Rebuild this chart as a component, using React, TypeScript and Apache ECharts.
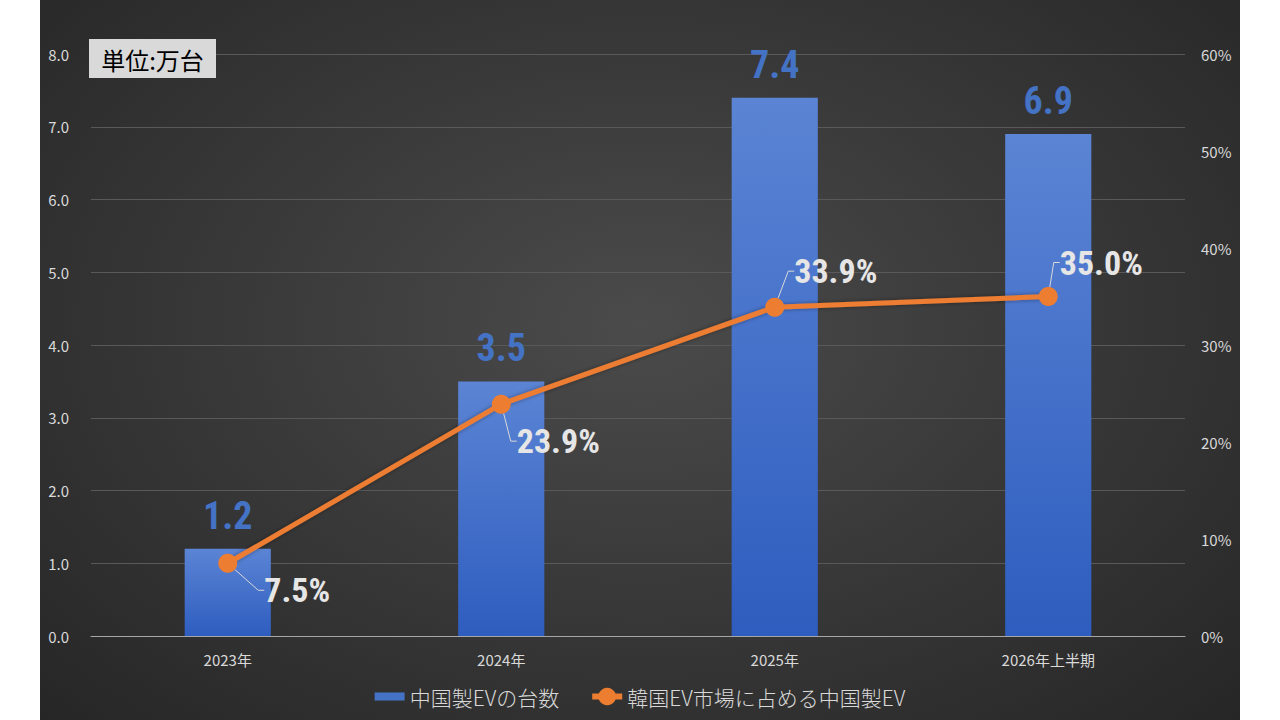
import React, { useEffect, useRef } from "react";
import * as echarts from "echarts";

const categories = ["2023年", "2024年", "2025年", "2026年上半期"];
const evUnits = [1.2, 3.5, 7.4, 6.9];
const evShare = [7.5, 23.9, 33.9, 35.0];
const leftTicks = [0, 1, 2, 3, 4, 5, 6, 7, 8];
const rightTicks = [0, 10, 20, 30, 40, 50, 60];
const barName = "中国製EVの台数";
const lineName = "韓国EV市場に占める中国製EV";
const unitText = "単位:万台";

const labelOffsets = [
  { dx: 22, dy: 27 },
  { dx: 1, dy: 37 },
  { dx: 5, dy: -36 },
  { dx: -3, dy: -34 },
];

const NARROW = "'Liberation Sans Narrow', 'Arial Narrow', 'Roboto Condensed', sans-serif";
const CJK = "'Noto Sans CJK JP', 'Noto Sans', sans-serif";

export default function App() {
  const ref = useRef<HTMLDivElement>(null);
  useEffect(() => {
    if (!ref.current) return;
    const chart = echarts.init(ref.current, null, { renderer: "svg" });
    chart.setOption({
      animation: false,
      backgroundColor: "transparent",
      textStyle: { fontFamily: CJK },
      grid: { left: 51, right: 55, top: 54, bottom: 84 },
      legend: {
        bottom: 8,
        left: "center",
        itemGap: 30,
        itemWidth: 30,
        itemHeight: 22,
        symbolKeepAspect: true,
        textStyle: { color: "#d9d9d9", fontSize: 21, fontWeight: 300, fontFamily: CJK },
        data: [
          { name: barName, icon: "path://M0 0H26V7H0Z", itemStyle: { color: "#4472c4" } },
          { name: lineName, lineStyle: { width: 6, color: "#ed7d31" }, itemStyle: { color: "#ed7d31" } },
        ],
      },
      graphic: [
        {
          type: "group",
          left: 49,
          top: 39,
          z: 100,
          children: [
            { type: "rect", z: 100, shape: { x: 0, y: 0, width: 127, height: 39 }, style: { fill: "#d9d9d9" } },
            {
              type: "text",
              z: 101,
              x: 63.5,
              y: 20,
              style: {
                text: unitText,
                fill: "#000",
                font: "400 24px 'Noto Sans CJK JP', sans-serif",
                align: "center",
                verticalAlign: "middle",
              },
            },
          ],
        },
      ],
      xAxis: {
        type: "category",
        data: categories,
        axisTick: { show: false },
        axisLine: { lineStyle: { color: "#a6a6a6", width: 1 } },
        axisLabel: { color: "#d9d9d9", fontSize: 15, margin: 16, fontFamily: CJK },
      },
      yAxis: [
        {
          type: "value",
          min: leftTicks[0],
          max: leftTicks[leftTicks.length - 1],
          interval: 1,
          axisLabel: {
            color: "#d9d9d9",
            fontSize: 15,
            margin: 22,
            formatter: (v: number) => v.toFixed(1),
          },
          splitLine: { lineStyle: { color: "#595959", width: 1 } },
          axisLine: { show: false },
          axisTick: { show: false },
        },
        {
          type: "value",
          min: rightTicks[0],
          max: rightTicks[rightTicks.length - 1],
          interval: 10,
          axisLabel: { color: "#d9d9d9", fontSize: 15, margin: 16, formatter: "{value}%" },
          splitLine: { show: false },
          axisLine: { show: false },
          axisTick: { show: false },
        },
      ],
      series: [
        {
          name: barName,
          type: "bar",
          data: evUnits,
          barWidth: "31.5%",
          itemStyle: {
            color: new echarts.graphic.LinearGradient(0, 0, 0, 1, [
              { offset: 0, color: "#5b84d4" },
              { offset: 1, color: "#2e5dbf" },
            ]),
          },
          label: {
            show: true,
            position: "top",
            distance: 14,
            color: "#4472c4",
            fontSize: 38,
            fontWeight: "bold",
            fontFamily: NARROW,
            formatter: (p: any) => p.value.toFixed(1),
          },
        },
        {
          name: lineName,
          type: "line",
          yAxisIndex: 1,
          data: evShare,
          symbol: "circle",
          symbolSize: 19,
          lineStyle: { color: "#ed7d31", width: 5, shadowBlur: 4, shadowColor: "rgba(0,0,0,0.4)" },
          itemStyle: { color: "#ed7d31" },
          label: {
            show: true,
            position: "right",
            distance: 5,
            color: "#e6e6e6",
            fontSize: 34,
            fontWeight: "bold",
            fontFamily: NARROW,
            formatter: (p: any) => p.value.toFixed(1) + "%",
          },
          labelLine: {
            show: true,
            length2: 6,
            lineStyle: { color: "#d9d9d9", width: 1 },
          },
          labelLayout: (params: any) => labelOffsets[params.dataIndex] || {},
          z: 3,
        },
      ],
    });
    return () => chart.dispose();
  }, []);
  return (
    <div
      style={{
        position: "absolute",
        left: 40,
        top: 0,
        width: 1200,
        height: 720,
        background: "radial-gradient(ellipse at 50% 45%, #4b4b4b 0%, #3a3a3a 45%, #262626 100%)",
      }}
    >
      <div ref={ref} style={{ width: 1200, height: 720 }} />
    </div>
  );
}
